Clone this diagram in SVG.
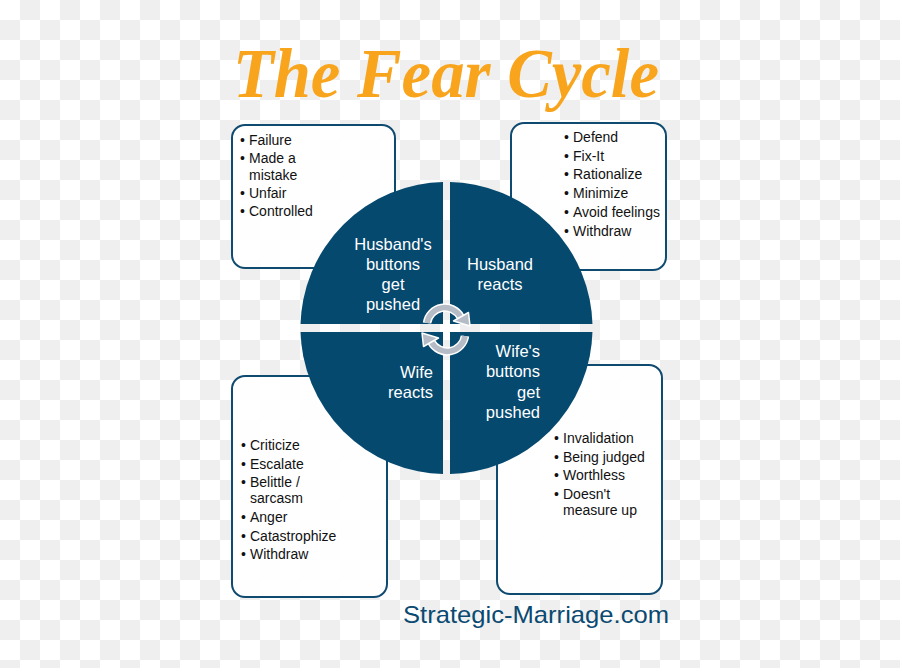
<svg xmlns="http://www.w3.org/2000/svg" width="900" height="668" viewBox="0 0 900 668">
<defs>
<pattern id="checker" patternUnits="userSpaceOnUse" width="40" height="40">
<rect width="40" height="40" fill="#ffffff"/>
<rect x="20" y="0" width="20" height="20" fill="#efefef"/>
<rect x="0" y="20" width="20" height="20" fill="#efefef"/>
</pattern>
<clipPath id="qTL"><rect x="290" y="170" width="153" height="154"/></clipPath>
<clipPath id="qTR"><rect x="450" y="170" width="160" height="154"/></clipPath>
<clipPath id="qBL"><rect x="290" y="332" width="153" height="160"/></clipPath>
<clipPath id="qBR"><rect x="450" y="332" width="160" height="160"/></clipPath>
<g id="cyc">
<path d="M 427 323 A 18 18 0 0 1 460.6 317" fill="none" stroke="#ffffff" stroke-width="8.5"/>
<path d="M 427 323 A 18 18 0 0 1 460.6 317" fill="none" stroke="#b5bcc5" stroke-width="5.5"/>
<polygon points="468.5,312.5 453.5,321 470,326" fill="#b5bcc5" stroke="#ffffff" stroke-width="1.5" stroke-linejoin="round"/>
</g>
</defs>
<style>
.box{fill:#ffffff;fill-opacity:0.9;stroke:#0f4a70;stroke-width:2}
.q{fill:#05496f}
.lst{font-family:"Liberation Sans",Arial,sans-serif;font-size:14px;fill:#111111}
.ct{font-family:"Liberation Sans",Arial,sans-serif;font-size:16.5px;fill:#ffffff}
</style>
<rect width="900" height="668" fill="url(#checker)"/>
<text x="446" y="97" text-anchor="middle" font-family="'Liberation Serif',serif" font-weight="bold" font-style="italic" font-size="70" fill="#f8a51d" textLength="426" lengthAdjust="spacingAndGlyphs">The Fear Cycle</text>

<g id="box-husband-buttons">
<rect class="box" x="232" y="125" width="163" height="143" rx="13"/>
<text class="lst"><tspan x="240" y="145">•</tspan><tspan x="249" y="145">Failure</tspan><tspan x="240" y="163">•</tspan><tspan x="249" y="163">Made a</tspan><tspan x="249" y="180">mistake</tspan><tspan x="240" y="198">•</tspan><tspan x="249" y="198">Unfair</tspan><tspan x="240" y="216">•</tspan><tspan x="249" y="216">Controlled</tspan></text>
</g>
<g id="box-husband-reacts">
<rect class="box" x="511" y="123" width="155" height="147" rx="13"/>
<text class="lst"><tspan x="564" y="142">•</tspan><tspan x="573" y="142">Defend</tspan><tspan x="564" y="161">•</tspan><tspan x="573" y="161">Fix-It</tspan><tspan x="564" y="179">•</tspan><tspan x="573" y="179">Rationalize</tspan><tspan x="564" y="198">•</tspan><tspan x="573" y="198">Minimize</tspan><tspan x="564" y="217">•</tspan><tspan x="573" y="217">Avoid feelings</tspan><tspan x="564" y="236">•</tspan><tspan x="573" y="236">Withdraw</tspan></text>
</g>
<g id="box-wife-reacts">
<rect class="box" x="232" y="376" width="155" height="221" rx="13"/>
<text class="lst"><tspan x="241" y="450">•</tspan><tspan x="250" y="450">Criticize</tspan><tspan x="241" y="469">•</tspan><tspan x="250" y="469">Escalate</tspan><tspan x="241" y="487">•</tspan><tspan x="250" y="487">Belittle /</tspan><tspan x="250" y="503">sarcasm</tspan><tspan x="241" y="522">•</tspan><tspan x="250" y="522">Anger</tspan><tspan x="241" y="541">•</tspan><tspan x="250" y="541">Catastrophize</tspan><tspan x="241" y="559">•</tspan><tspan x="250" y="559">Withdraw</tspan></text>
</g>
<g id="box-wife-buttons">
<rect class="box" x="497" y="365" width="165" height="229" rx="13"/>
<text class="lst"><tspan x="554" y="443">•</tspan><tspan x="563" y="443">Invalidation</tspan><tspan x="554" y="462">•</tspan><tspan x="563" y="462">Being judged</tspan><tspan x="554" y="480">•</tspan><tspan x="563" y="480">Worthless</tspan><tspan x="554" y="499">•</tspan><tspan x="563" y="499">Doesn't</tspan><tspan x="563" y="515">measure up</tspan></text>
</g>

<g id="q-husband-buttons">
<circle class="q" cx="446.5" cy="328" r="146" clip-path="url(#qTL)"/>
<text class="ct" text-anchor="middle"><tspan x="393" y="250">Husband's</tspan><tspan x="393" y="270">buttons</tspan><tspan x="393" y="290">get</tspan><tspan x="393" y="310">pushed</tspan></text>
</g>
<g id="q-husband-reacts">
<circle class="q" cx="446.5" cy="328" r="146" clip-path="url(#qTR)"/>
<text class="ct" text-anchor="middle"><tspan x="500" y="270">Husband</tspan><tspan x="500" y="290">reacts</tspan></text>
</g>
<g id="q-wife-reacts">
<circle class="q" cx="446.5" cy="328" r="146" clip-path="url(#qBL)"/>
<text class="ct" text-anchor="end"><tspan x="433" y="378">Wife</tspan><tspan x="433" y="398">reacts</tspan></text>
</g>
<g id="q-wife-buttons">
<circle class="q" cx="446.5" cy="328" r="146" clip-path="url(#qBR)"/>
<text class="ct" text-anchor="end"><tspan x="540" y="357">Wife's</tspan><tspan x="540" y="377">buttons</tspan><tspan x="540" y="398">get</tspan><tspan x="540" y="418">pushed</tspan></text>
</g>

<g id="connectors">
<use href="#cyc"/>
<use href="#cyc" transform="rotate(180 446 329.5)"/>
</g>

<text x="536" y="623" text-anchor="middle" font-family="'Liberation Sans',Arial,sans-serif" font-size="24" fill="#0b4a71" textLength="266" lengthAdjust="spacingAndGlyphs">Strategic-Marriage.com</text>
</svg>
